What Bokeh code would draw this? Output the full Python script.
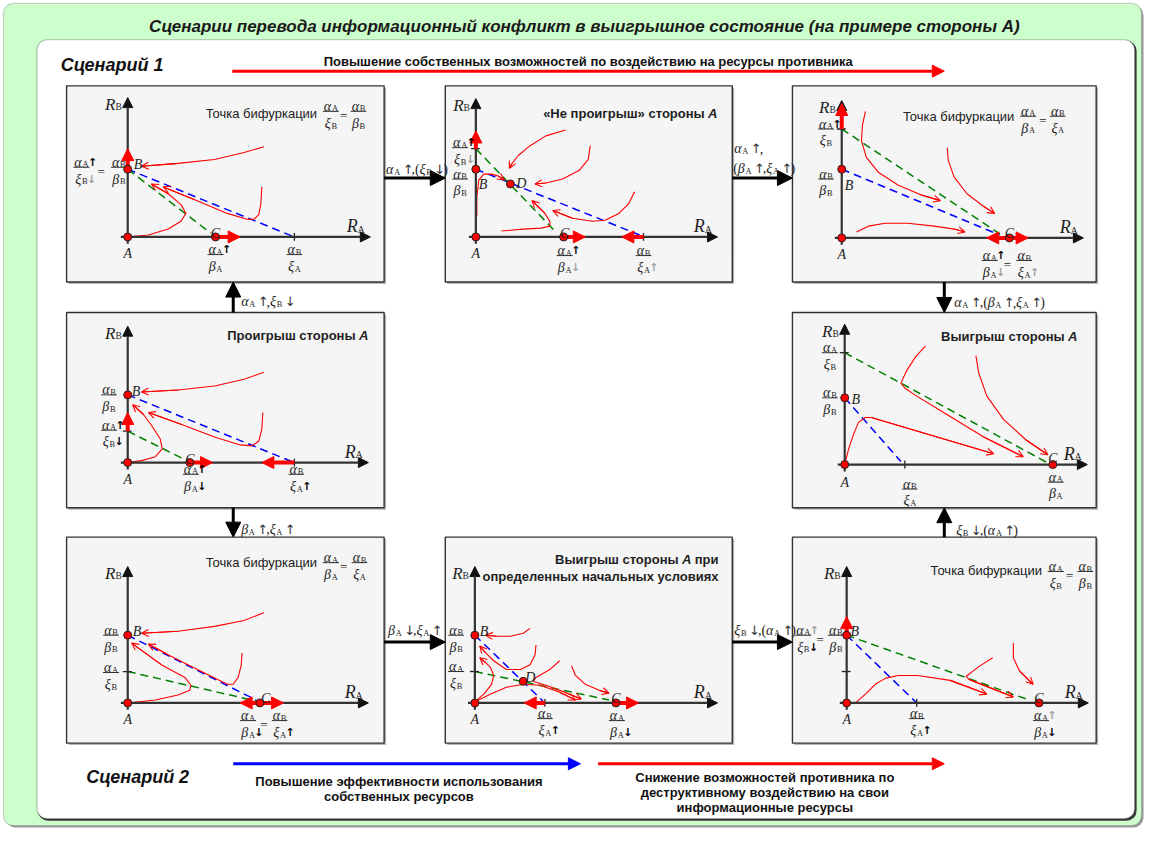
from bokeh.plotting import figure
from bokeh.models import ColumnDataSource, Range1d, Arrow, OpenHead, NormalHead, BoxAnnotation
from bokeh.core.properties import value
from bokeh.embed import file_html
from bokeh.resources import INLINE

# ---------------------------------------------------------------- texts
TITLE = "Сценарии перевода информационный конфликт в выигрышное состояние (на примере стороны А)"
SCEN1 = "Сценарий 1"
SCEN2 = "Сценарий 2"
TOP_NOTE = "Повышение собственных возможностей по воздействию на ресурсы противника"
BLUE_NOTE = ["Повышение эффективности использования", "собственных ресурсов"]
RED_NOTE = ["Снижение возможностей противника по", "деструктивному воздействию на свои",
            "информационные ресурсы"]
BIF = "Точка бифуркации"

# ---------------------------------------------------------------- panel data (local axis units: u right, v up)
P1 = dict(pts=[("A", 0, 0), ("B", 0, 69), ("C", 89, 0)],
          blue=(0, 69, 169, 0), green=(0, 69, 84, 4), xt=[169], yt=[],
          thick=[(0, 69, 0, 90, 1), (89, 0, 114, 0, 1)],
          curves=[[(138, 92), (118, 86), (88, 79), (51, 75), (14, 72)],
                  [(136, 51), (135, 34), (133, 23), (128, 18), (121, 18), (101, 24), (68, 38), (36, 51)],
                  [(0, 0), (21, 2), (41, 8), (54, 16), (59, 24), (54, 33), (41, 44), (24, 54)]])
P2 = dict(pts=[("A", 0, 0), ("B", 0, 69), ("D", 35, 54), ("C", 89, 0)],
          blue=(0, 69, 166, 2), green=(0, 90, 82, 4), xt=[170], yt=[90],
          thick=[(0, 90, 0, 108, 1), (89, 0, 111, 0, 1), (170, 0, 148, 0, 1)],
          curves=[[(91, 109), (71, 103), (55, 93), (43, 83), (36, 74), (34, 70)],
                  [(116, 93), (114, 79), (105, 68), (88, 59), (71, 55), (60, 54)],
                  [(161, 46), (155, 34), (145, 24), (131, 17), (118, 16), (98, 19), (78, 27)],
                  [(26, 6), (48, 8), (66, 9), (75, 11), (75, 16), (70, 24), (57, 37)],
                  [(1, 21), (1, 41), (3, 58), (8, 64), (16, 64), (23, 62), (29, 58)]])
P3 = dict(pts=[("A", 0, 0), ("B", 0, 70), ("C", 170, 0)],
          blue=(0, 70, 160, 3), green=(0, 111, 162, 3), xt=[], yt=[111],
          thick=[(0, 111, 0, 137, 1), (147, 0, 189, 0, 2)],
          curves=[[(24, 129), (21, 115), (20, 99), (25, 82), (37, 67), (57, 54), (80, 44), (100, 38)],
                  [(107, 92), (108, 79), (114, 62), (127, 45), (144, 32), (155, 25)],
                  [(15, 6), (27, 12), (44, 15), (67, 15), (94, 12), (114, 9), (125, 6)]])
P4 = dict(pts=[("A", 0, 0), ("B", 0, 69), ("C", 63, 0)],
          blue=(0, 69, 169, 0), green=(0, 32, 60, 2), xt=[169], yt=[32],
          thick=[(0, 32, 0, 51, 1), (63, 0, 86, 0, 1), (169, 0, 136, 0, 1)],
          curves=[[(138, 92), (118, 85), (88, 78), (51, 74), (14, 72)],
                  [(137, 51), (136, 34), (133, 22), (126, 17), (114, 18), (88, 26), (54, 39), (21, 51)],
                  [(0, 0), (14, 2), (28, 6), (35, 14), (33, 24), (24, 38), (16, 49), (5, 59)]])
P5 = dict(pts=[("A", 0, 0), ("B", 0, 68), ("C", 211, 0)],
          blue=(0, 68, 57, 3), green=(0, 114, 207, 1), xt=[61], yt=[114],
          thick=[],
          curves=[[(0, 0), (4, 16), (9, 31), (14, 43), (21, 48), (27, 48), (151, 11)],
                  [(82, 121), (72, 110), (63, 96), (57, 83), (61, 78), (71, 71), (97, 55), (141, 28), (181, 8)],
                  [(133, 111), (136, 93), (144, 70), (161, 46), (184, 25), (206, 10)]])
P6 = dict(pts=[("A", 0, 0), ("B", 0, 69), ("C", 134, 0)],
          blue=(0, 69, 130, 3), green=(0, 32, 130, 2), xt=[], yt=[32],
          thick=[(114, 0, 158, 0, 2)],
          curves=[[(138, 92), (118, 84), (88, 78), (51, 73), (14, 71)],
                  [(116, 51), (115, 38), (112, 26), (107, 19), (101, 19), (81, 29), (61, 39), (41, 49), (21, 60)],
                  [(0, 0), (28, 3), (51, 8), (63, 13), (64, 18), (58, 26), (34, 39), (4, 61)]])
P7 = dict(pts=[("A", 0, 0), ("B", 0, 69), ("D", 49, 22), ("C", 143, 0)],
          blue=(0, 69, 69, 2), green=(0, 32, 136, 3), xt=[71], yt=[32],
          thick=[(71, 0, 50, 0, 1), (143, 0, 166, 0, 1)],
          curves=[[(56, 76), (49, 71), (36, 68), (22, 68), (11, 69)],
                  [(62, 59), (61, 49), (56, 39), (46, 34), (32, 34), (19, 43), (11, 51), (5, 58)],
                  [(0, 1), (9, 9), (17, 19), (19, 28), (16, 36), (11, 41), (5, 46)],
                  [(0, 1), (16, 9), (32, 16), (49, 19), (66, 18), (86, 11), (102, 3)],
                  [(86, 43), (76, 34), (62, 26), (59, 22), (72, 18), (91, 11), (108, 4)],
                  [(98, 38), (102, 28), (112, 19), (126, 13), (136, 10)]])
P8 = dict(pts=[("A", 0, 0), ("B", 0, 69), ("C", 195, 0)],
          blue=(0, 69, 70, 1), green=(0, 69, 185, 3), xt=[71], yt=[32],
          thick=[(0, 69, 0, 88, 1)],
          curves=[[(10, 1), (19, 9), (29, 19), (39, 25), (52, 28), (72, 28), (105, 23), (142, 9)],
                  [(148, 46), (134, 37), (121, 27), (124, 24), (169, 6)],
                  [(169, 61), (169, 46), (175, 33), (189, 19)]])

# math labels per panel: fractions (u, v_line, numerator, denominator), "=" signs (u, v_line)
# symbol code: greek, subscript, optional arrow (^ up / v down) and colour (k black / g grey)
P1_FR = [(-47, 71, "αA^k", "ξBvg"), (-9, 71, "αB", "βB"), (89, -18, "αA^k", "βA"),
         (169, -18, "αB", "ξA"), (206, 128, "αA", "ξB"), (234, 128, "αB", "βB")]
P1_EQ = [(-27, 71), (219, 128)]
P2_FR = [(-16, 91, "αA^k", "ξBvg"), (-16, 59, "αB", "βB"), (90, -19, "αA^k", "βAvg"),
         (170, -19, "αB", "ξA^g")]
P2_EQ = []
P3_FR = [(-16, 111, "αA^k", "ξB"), (-16, 60, "αB", "βB"), (150, -23, "αA^k", "βAvg"),
         (185, -23, "αB", "ξA^g"), (189, 124, "αA", "βA"), (219, 124, "αB", "ξA")]
P3_EQ = [(168, -23), (204, 124)]
P4_FR = [(-19, 69, "αB", "βB"), (-19, 33, "αA^k", "ξBvk"), (64, -12, "αA^k", "βAvk"),
         (171, -12, "αB", "ξA^k")]
P4_EQ = []
P5_FR = [(-15, 114, "αA", "ξB"), (-15, 68, "αB", "βB"), (66, -25, "αB", "ξA"), (214, -18, "αA", "βA")]
P5_EQ = []
P6_FR = [(-17, 69, "αB", "βB"), (-17, 31, "αA", "ξB"), (122, -18, "αA", "βAvk"),
         (154, -18, "αB", "ξA^k"), (206, 143, "αA", "βA"), (235, 143, "αB", "ξA")]
P6_EQ = [(138, -18), (219, 143)]
P7_FR = [(-19, 69, "αB", "βB"), (-19, 32, "αA", "ξB"), (71, -16, "αB", "ξA^k"), (144, -18, "αA", "βAvk")]
P7_EQ = []
P8_FR = [(-44, 69, "αA^g", "ξBvk"), (-11, 69, "αB", "βB"), (71, -16, "αB", "ξA^k"),
         (197, -18, "αA^g", "βAvk"), (212, 134, "αA", "ξB"), (242, 134, "αB", "βB")]
P8_EQ = [(-27, 69), (226, 134)]

# connector labels: tuples are (greek, subscript), strings are plain
C12 = [("α", "A"), " ↑,(", ("ξ", "B"), " ↓)"]
C23a = [("α", "A"), " ↑,"]
C23b = ["(", ("β", "A"), " ↑,", ("ξ", "A"), " ↑)"]
C41 = [("α", "A"), " ↑,", ("ξ", "B"), " ↓"]
C46 = [("β", "A"), " ↑,", ("ξ", "A"), " ↑"]
C35 = [("α", "A"), " ↑,(", ("β", "A"), " ↑,", ("ξ", "A"), " ↑)"]
C85 = [("ξ", "B"), " ↓,(", ("α", "A"), " ↑)"]
C67 = [("β", "A"), " ↓,", ("ξ", "A"), " ↑"]
C78 = [("ξ", "B"), " ↓,(", ("α", "A"), " ↑)"]

# ---------------------------------------------------------------- layout
LAYOUT = [
    dict(d=P1, fr=P1_FR, eq=P1_EQ, rect=(67, 87, 389, 287), o=(129, 241), vtop=142, ur=246,
         lbl={"A": (0, -17, "center"), "B": (6, 74, "left"), "C": (89, 4, "center")},
         title=("bif", 79, 126)),
    dict(d=P2, fr=P2_FR, eq=P2_EQ, rect=(451, 87, 742, 287), o=(482, 241), vtop=141, ur=245,
         lbl={"A": (0, -17, "center"), "B": (3, 53, "left"), "D": (41, 54, "left"), "C": (90, 4, "center")},
         title=("bold", 245, 126, ["«Не проигрыш» стороны A"])),
    dict(d=P3, fr=P3_FR, eq=P3_EQ, rect=(803, 87, 1111, 287), o=(853, 242), vtop=140, ur=245,
         lbl={"A": (0, -17, "center"), "B": (3, 53, "left"), "C": (170, 4, "center")},
         title=("bif", 62, 124)),
    dict(d=P4, fr=P4_FR, eq=P4_EQ, rect=(67, 318, 389, 517), o=(129, 471), vtop=139, ur=244,
         lbl={"A": (0, -17, "center"), "B": (4, 72, "left"), "C": (63, 3, "center")},
         title=("bold", 244, 130, ["Проигрыш стороны A"])),
    dict(d=P5, fr=P5_FR, eq=P5_EQ, rect=(803, 318, 1111, 517), o=(856, 473), vtop=143, ur=246,
         lbl={"A": (0, -18, "center"), "B": (7, 66, "left"), "C": (211, 6, "center")},
         title=("bold", 236, 131, ["Выигрыш стороны A"])),
    dict(d=P6, fr=P6_FR, eq=P6_EQ, rect=(67, 547, 389, 757), o=(129, 716), vtop=139, ur=244,
         lbl={"A": (0, -17, "center"), "B": (5, 73, "left"), "C": (140, 5, "center")},
         title=("bif", 79, 143)),
    dict(d=P7, fr=P7_FR, eq=P7_EQ, rect=(451, 547, 742, 757), o=(481, 716), vtop=139, ur=246,
         lbl={"A": (0, -17, "center"), "B": (5, 73, "left"), "D": (51, 26, "left"), "C": (143, 5, "center")},
         title=("bold", 247, 146, ["Выигрыш стороны A при", "определенных начальных условиях"])),
    dict(d=P8, fr=P8_FR, eq=P8_EQ, rect=(803, 547, 1111, 757), o=(858, 716), vtop=139, ur=245,
         lbl={"A": (0, -17, "center"), "B": (4, 73, "left"), "C": (195, 5, "center")},
         title=("bif", 85, 135)),
]

SERIF, SANS, ARW = "Liberation Serif", "Liberation Sans", "DejaVu Sans"
DARK, AX, RED, BLUE, GREEN, GRAY = "#1f1f1f", "#333333", "#ff0000", "#0000ff", "#008000", "#a0a0a0"

# ---------------------------------------------------------------- collectors
TX = {k: [] for k in ("x", "y", "text", "size", "style", "color", "font", "align")}


def put(x, y, s, size, style="normal", color=DARK, font=SANS, align="left"):
    TX["x"].append(x); TX["y"].append(y); TX["text"].append(s)
    TX["size"].append(f"{size}px"); TX["style"].append(style); TX["color"].append(color)
    TX["font"].append(font); TX["align"].append(align)


SEG = {k: [] for k in ("x0", "y0", "x1", "y1")}


def seg(x0, y0, x1, y1):
    SEG["x0"].append(x0); SEG["y0"].append(y0); SEG["x1"].append(x1); SEG["y1"].append(y1)


WF = {"α": 0.55, "β": 0.52, "ξ": 0.45, "A": 0.72, "B": 0.67, "↑": 0.5, "↓": 0.5, ",": 0.25,
      "(": 0.33, ")": 0.33, "=": 0.56, " ": 0.25}


def tw(s, size):
    return sum(WF.get(c, 0.5) for c in s) * size


GS = 14


def sym(x, y, g, sub, gs=GS, drop=3):
    wg = tw(g, gs)
    put(x, y, g, gs, "italic", font=SERIF)
    ss = round(gs * 0.6, 1)
    put(x + wg + 0.5, y + drop, sub, ss, font=SERIF)
    return wg + 0.5 + tw(sub, ss)


def part(cx, base, code, drop):
    g, s = code[0], code[1]
    w = tw(g, GS) + 0.5 + tw(s, GS * 0.6)
    x0 = cx - w / 2
    sym(x0, base, g, s, GS, drop)
    if len(code) > 2:
        ch = "↑" if code[2] == "^" else "↓"
        col = GRAY if code[3] == "g" else "#000000"
        put(x0 + w - 0.5, base, ch, 11, "bold", col, ARW)
    return w


def frac(cx, ly, num, den):
    w1 = part(cx, ly - 5, num, 2.5)
    w2 = part(cx, ly + 12, den, 3)
    w = max(w1, w2) + 2
    seg(cx - w / 2, ly, cx + w / 2, ly)


def row(x, y, toks, gs=14):
    for t in toks:
        if isinstance(t, tuple):
            x += sym(x, y, t[0], t[1], gs)
            continue
        buf = ""
        for ch in t + "\0":
            if ch in "↑↓\0":
                if buf.strip():
                    lead = len(buf) - len(buf.lstrip(" "))
                    x += lead * 0.25 * gs
                    s = buf.strip(" ")
                    put(x, y, s, gs, font=SERIF)
                    x += tw(s, gs)
                elif buf:
                    x += len(buf) * 0.25 * gs
                buf = ""
                if ch != "\0":
                    put(x - 1, y, ch, gs - 1, font=ARW, color="#333333")
                    x += 0.62 * (gs - 1)
            else:
                buf += ch


# ---------------------------------------------------------------- figure
p = figure(width=1145, height=828, x_range=Range1d(0, 1161), y_range=Range1d(844, 0),
           output_backend="svg", toolbar_location=None, min_border=0,
           x_axis_location=None, y_axis_location=None)
p.grid.visible = False
p.outline_line_color = None
p.background_fill_color = "white"
p.border_fill_color = "white"


def rbox(l, t, r, b, fill, line, lw, rad):
    p.add_layout(BoxAnnotation(left=l, right=r, top=t, bottom=b, fill_color=fill, fill_alpha=1,
                               line_color=line, line_width=lw, border_radius=rad, level="underlay"))


rbox(5, 5, 1159, 843, "#9a9a9a", None, 0, 10)
rbox(3, 3, 1157, 841, "#ccffcc", "#6b6b6b", 1.2, 10)
rbox(38, 41, 1152, 836, "#3a3a3a", None, 0, 10)
rbox(37, 40, 1150, 834, "#ffffff", "#2a2a2a", 1.2, 10)

# panels
pl = [L["rect"] for L in LAYOUT]
p.quad(left=[r[0] + 2 for r in pl], right=[r[2] + 2 for r in pl], top=[r[1] + 2 for r in pl],
       bottom=[r[3] + 2 for r in pl], fill_color="#b5b5b5", line_color=None)
p.quad(left=[r[0] for r in pl], right=[r[2] for r in pl], top=[r[1] for r in pl],
       bottom=[r[3] for r in pl], fill_color="#f5f5f5", line_color="#333333", line_width=1.4)

AXA = {k: [] for k in ("xs", "ys", "xe", "ye")}
BL = {k: [] for k in ("x0", "y0", "x1", "y1")}
GR = {k: [] for k in ("x0", "y0", "x1", "y1")}
TK = {k: [] for k in ("x0", "y0", "x1", "y1")}
TH1 = {k: [] for k in ("xs", "ys", "xe", "ye")}
TH2 = {k: [] for k in ("xs", "ys", "xe", "ye")}
CV = {"xs": [], "ys": []}
CVA = {k: [] for k in ("xs", "ys", "xe", "ye")}
PT = {"x": [], "y": []}


def add4(dct, a, b, c, d):
    ks = list(dct.keys())
    dct[ks[0]].append(a); dct[ks[1]].append(b); dct[ks[2]].append(c); dct[ks[3]].append(d)


for Lo in LAYOUT:
    d = Lo["d"]
    ox, oy = Lo["o"]
    X = lambda u: ox + u
    Y = lambda v: oy - v
    # axes
    add4(AXA, X(0), Y(-7), X(0), Y(Lo["vtop"]))
    add4(AXA, X(-7), Y(0), X(Lo["ur"]), Y(0))
    put(X(-23), Y(Lo["vtop"] - 7), "R", 17, "italic", font=SERIF)
    put(X(-12.5), Y(Lo["vtop"] - 10), "B", 9.5, font=SERIF)
    put(X(Lo["ur"] - 24), Y(11), "R", 18, "italic", font=SERIF)
    put(X(Lo["ur"] - 13), Y(8), "A", 10, font=SERIF)
    # ticks
    for u in d["xt"]:
        add4(TK, X(u), Y(4), X(u), Y(-4))
    for v in d["yt"]:
        add4(TK, X(-5), Y(v), X(4), Y(v))
    # dashed lines
    b = d["blue"]; add4(BL, X(b[0]), Y(b[1]), X(b[2]), Y(b[3]))
    g = d["green"]; add4(GR, X(g[0]), Y(g[1]), X(g[2]), Y(g[3]))
    # curves
    for c in d["curves"]:
        xs = [X(u) for u, v in c]; ys = [Y(v) for u, v in c]
        CV["xs"].append(xs); CV["ys"].append(ys)
        add4(CVA, xs[-2], ys[-2], xs[-1], ys[-1])
    # thick red arrows
    for (u0, v0, u1, v1, k) in d["thick"]:
        add4(TH1 if k == 1 else TH2, X(u0), Y(v0), X(u1), Y(v1))
    # points and labels
    for (nm, u, v) in d["pts"]:
        PT["x"].append(X(u)); PT["y"].append(Y(v))
        lu, lv, al = Lo["lbl"][nm]
        put(X(lu), Y(lv), nm, 14, "italic", font=SERIF, align=al)
    # math labels
    for (u, v, n, dn) in Lo["fr"]:
        frac(X(u), Y(v), n, dn)
    for (u, v) in Lo["eq"]:
        put(X(u), Y(v) + 4, "=", 13, font=SERIF, align="center")
    # titles
    t = Lo["title"]
    if t[0] == "bif":
        put(X(t[1]), Y(t[2]), BIF, 13, color="#222222")
    else:
        end, base = X(t[1]), Y(t[2])
        for i, line in enumerate(t[3]):
            yb = base + 17 * i
            if " A" in line:
                pre, post = line.split(" A")
                xe = end
                if post:
                    put(xe, yb, post.strip(), 13, "bold", align="right")
                    xe -= tw(post.strip(), 13) * 1.22 + 3.6
                put(xe, yb, "A", 13, "bold italic", align="right")
                xe -= 9.4 + 3.6
                put(xe, yb, pre, 13, "bold", align="right")
            else:
                put(end, yb, line, 13, "bold", align="right")

# connectors
CN = {k: [] for k in ("xs", "ys", "xe", "ye")}
for (a, b_, c, d_) in [(389, 181, 451, 181), (742, 181, 803, 181), (236, 318, 236, 287),
                       (236, 517, 236, 547), (957, 287, 957, 318), (957, 547, 957, 517),
                       (389, 654, 451, 654), (742, 654, 803, 654)]:
    add4(CN, a, b_, c, d_)
row(391, 172, C12)
row(744, 151, C23a)
row(743, 171, C23b)
row(244, 307, C41)
row(244, 539, C46)
row(967, 308, C35)
row(969, 540, C85)
row(393, 642, C67)
row(744, 642, C78)

# headings
put(592, 27, TITLE, 17, "bold italic", color="#1a1a1a", align="center")
put(61, 66, SCEN1, 18, "bold italic", color="#111111")
put(87, 792, SCEN2, 18, "bold italic", color="#111111")
put(596, 62, TOP_NOTE, 13, "bold", color="#111111", align="center")
for i, s in enumerate(BLUE_NOTE):
    put(404, 796 + 15 * i, s, 13, "bold", color="#111111", align="center")
for i, s in enumerate(RED_NOTE):
    put(775, 792 + 15.5 * i, s, 13, "bold", color="#111111", align="center")

SC = {k: [] for k in ("xs", "ys", "xe", "ye", "c")}
for (a, b_, c, d_, col) in [(235, 72, 957, 72, RED), (236, 778, 588, 778, BLUE), (606, 778, 957, 778, RED)]:
    SC["xs"].append(a); SC["ys"].append(b_); SC["xe"].append(c); SC["ye"].append(d_); SC["c"].append(col)

# ---------------------------------------------------------------- render
p.segment(x0="x0", y0="y0", x1="x1", y1="y1", source=ColumnDataSource(BL), line_color=BLUE,
          line_width=1.5, line_dash="8 5")
p.segment(x0="x0", y0="y0", x1="x1", y1="y1", source=ColumnDataSource(GR), line_color=GREEN,
          line_width=1.5, line_dash="8 5")
p.multi_line(xs="xs", ys="ys", source=ColumnDataSource(CV), line_color=RED, line_width=1.1)
p.segment(x0="x0", y0="y0", x1="x1", y1="y1", source=ColumnDataSource(TK), line_color="#222222",
          line_width=1.3)
p.segment(x0="x0", y0="y0", x1="x1", y1="y1", source=ColumnDataSource(SEG), line_color="#333333",
          line_width=1)


def arrows(src, head, **kw):
    p.add_layout(Arrow(x_start="xs", y_start="ys", x_end="xe", y_end="ye",
                       source=ColumnDataSource(src), end=head, **kw))


arrows(AXA, NormalHead(size=10, fill_color="#111111", line_color="#111111"), line_color=AX, line_width=2.2)
arrows(CVA, OpenHead(size=7, line_color=RED, line_width=1.1), line_color=RED, line_width=1.1)
arrows(TH1, NormalHead(size=12, fill_color=RED, line_color=RED), line_color=RED, line_width=4)
p.add_layout(Arrow(x_start="xs", y_start="ys", x_end="xe", y_end="ye", source=ColumnDataSource(TH2),
                   start=NormalHead(size=12, fill_color=RED, line_color=RED),
                   end=NormalHead(size=12, fill_color=RED, line_color=RED), line_color=RED, line_width=4))
arrows(CN, NormalHead(size=15, fill_color="#000000", line_color="#000000"), line_color="#000000", line_width=3)
for i in range(3):
    one = {k: [SC[k][i]] for k in ("xs", "ys", "xe", "ye")}
    arrows(one, NormalHead(size=12, fill_color=SC["c"][i], line_color=SC["c"][i]),
           line_color=SC["c"][i], line_width=3)

p.scatter(x="x", y="y", source=ColumnDataSource(PT), size=8, fill_color=RED, line_color="#222222",
          line_width=1, level="overlay")
p.text(x="x", y="y", text="text", source=ColumnDataSource(TX), text_font_size="size",
       text_font_style="style", text_color="color", text_font="font", text_align="align",
       text_baseline=value("alphabetic"), level="overlay")

open("out.html", "w").write(file_html(p, INLINE))
